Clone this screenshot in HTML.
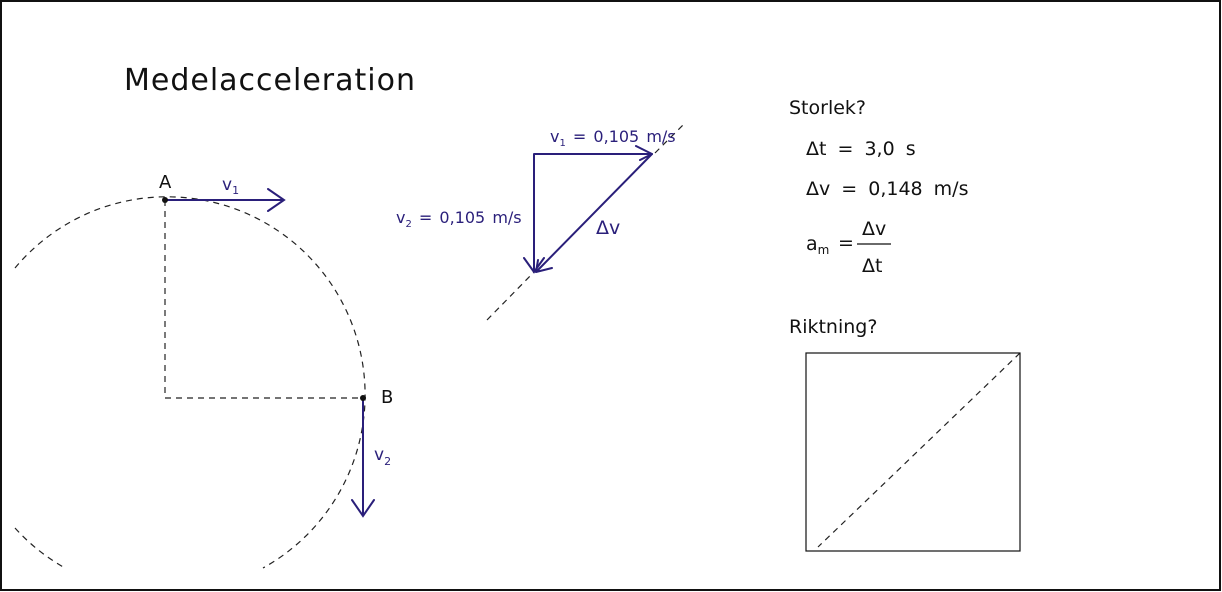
<!DOCTYPE html>
<html><head><meta charset="utf-8"><style>
html,body{margin:0;padding:0;background:#fff;width:1222px;height:592px;overflow:hidden}
svg text{font-family:"DejaVu Sans","Liberation Sans",sans-serif}
</style></head><body>
<svg width="1222" height="592" viewBox="0 0 1222 592" xmlns="http://www.w3.org/2000/svg">
<rect x="1" y="1" width="1219" height="589" fill="#fff" stroke="#111" stroke-width="2"/>
<text x="124" y="90" font-size="30" fill="#111" letter-spacing="1">Medelacceleration</text>
<g fill="none" stroke="#222" stroke-width="1.2" stroke-dasharray="6,5">
<path d="M15,268 A198,198 0 1 1 263,568"/>
<path d="M15,528 A198,198 0 0 0 65,568"/>
<path d="M165,200 L165,398 L363,398"/>
<path d="M487,320 L534,272"/>
<path d="M655,153 L685,123"/>
<path d="M1020,353 L818,547"/>
</g>
<rect x="806" y="353" width="214" height="198" fill="none" stroke="#111" stroke-width="1.2"/>
<g fill="none" stroke="#2a1f7a" stroke-width="2" stroke-linecap="round">
<path d="M165,200 L284,200 M268,189 L284,200 L268,211"/>
<path d="M363,398 L363,516 M352,500 L363,516 L374,500"/>
<path d="M534,154 L652,154 M636,146 L652,154 M534,154 L534,272 M524,258 L534,272 L544,258"/>
<path d="M652,154 L536,272 M538,260 L536,272 M536,272 L552,268 M652,154 L640,160"/>
</g>
<circle cx="165" cy="200" r="3" fill="#111"/>
<circle cx="363" cy="398" r="3" fill="#111"/>
<text x="159" y="188" font-size="18" fill="#111">A</text>
<text x="381" y="403" font-size="18" fill="#111">B</text>
<g fill="#2a1f7a">
<text x="222" y="190" font-size="17">v<tspan font-size="11" dy="4">1</tspan></text>
<text x="374" y="460" font-size="17">v<tspan font-size="11" dy="5">2</tspan></text>
<text x="550" y="142" font-size="16" word-spacing="2">v<tspan font-size="10" dy="4">1</tspan><tspan dy="-4"> = 0,105 m/s</tspan></text>
<text x="396" y="223" font-size="16" word-spacing="2">v<tspan font-size="10" dy="4">2</tspan><tspan dy="-4"> = 0,105 m/s</tspan></text>
<text x="596" y="234" font-size="19">Δv</text>
</g>
<g fill="#111">
<text x="789" y="114" font-size="19">Storlek?</text>
<text x="806" y="155" font-size="19" word-spacing="5">Δt = 3,0 s</text>
<text x="806" y="195" font-size="19" word-spacing="5">Δv = 0,148 m/s</text>
<text x="806" y="250" font-size="19">a<tspan font-size="12" dy="4">m</tspan></text>
<text x="838" y="249" font-size="19">=</text>
<text x="862" y="235" font-size="19">Δv</text>
<line x1="857" y1="244" x2="891" y2="244" stroke="#111" stroke-width="1.3"/>
<text x="862" y="272" font-size="19">Δt</text>
<text x="789" y="333" font-size="19">Riktning?</text>
</g>
</svg>
</body></html>
